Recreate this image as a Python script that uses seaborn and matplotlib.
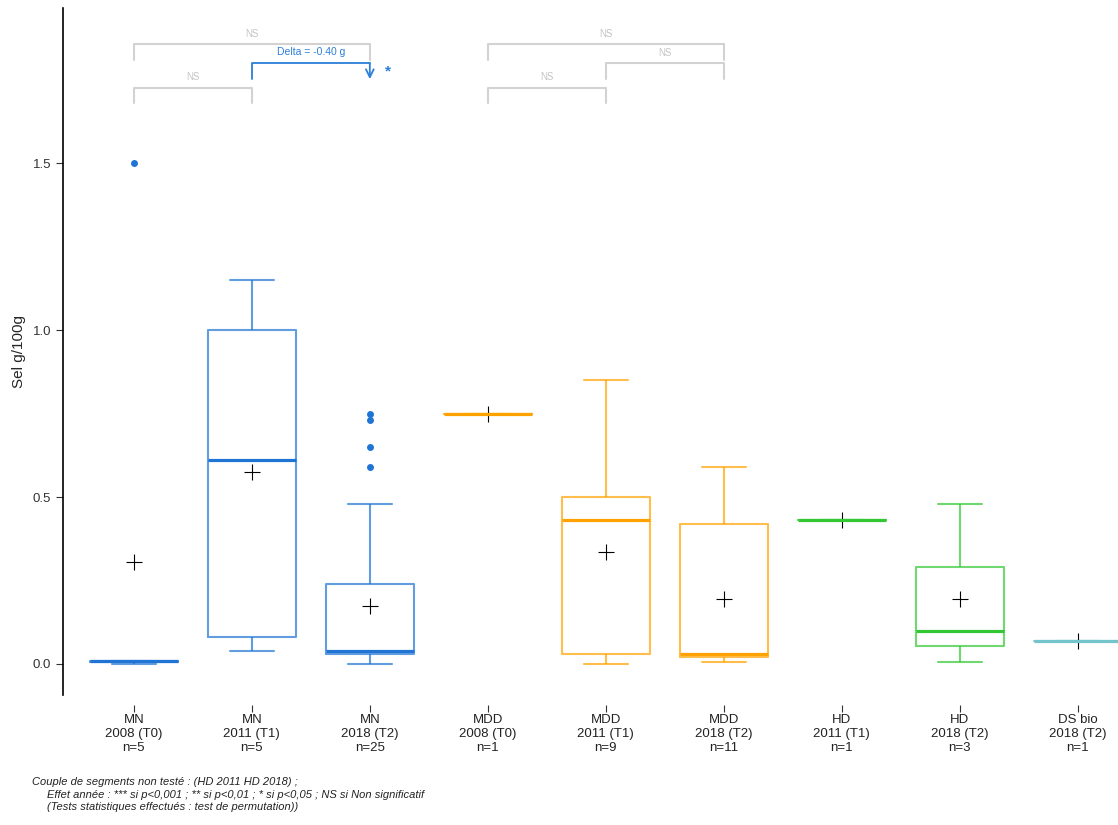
import numpy as np
import pandas as pd
import seaborn as sns
import matplotlib.pyplot as plt

# valeurs (Sel g/100g)
mn_2008 = [0.0, 0.005, 0.01, 0.01, 1.5]
mn_2011 = [0.04, 0.08, 0.61, 1.0, 1.15]
mn_2018 = [0.0, 0.01, 0.02, 0.02, 0.03, 0.03, 0.03, 0.03, 0.03, 0.04, 0.04, 0.04, 0.04,
           0.04, 0.04, 0.04, 0.05, 0.055, 0.24, 0.35, 0.48, 0.59, 0.65, 0.73, 0.75]
mdd_2008 = [0.75]
mdd_2011 = [0.0, 0.01, 0.03, 0.195, 0.43, 0.45, 0.50, 0.55, 0.85]
mdd_2018 = [0.005, 0.01, 0.02, 0.02, 0.025, 0.03, 0.10, 0.40, 0.44, 0.505, 0.59]
hd_2011 = [0.43]
hd_2018 = [0.005, 0.10, 0.48]
dsbio_2018 = [0.07]

segments = ["MN", "MN", "MN", "MDD", "MDD", "MDD", "HD", "HD", "DS bio"]
annees = ["2008 (T0)", "2011 (T1)", "2018 (T2)", "2008 (T0)", "2011 (T1)", "2018 (T2)",
          "2011 (T1)", "2018 (T2)", "2018 (T2)"]
valeurs = [mn_2008, mn_2011, mn_2018, mdd_2008, mdd_2011, mdd_2018, hd_2011, hd_2018, dsbio_2018]
couleurs_seg = {"MN": "#1f74d4", "MDD": "#ffa200", "HD": "#33c833", "DS bio": "#74c4cc"}

labels = [f"{s}\n{a}\nn={len(v)}" for s, a, v in zip(segments, annees, valeurs)]
df = pd.DataFrame({
    "segment": np.repeat(labels, [len(v) for v in valeurs]),
    "sel": np.concatenate(valeurs),
})
palette = {lab: couleurs_seg[s] for lab, s in zip(labels, segments)}

sns.set_style("ticks")
plt.rcParams['font.family'] = ['Liberation Sans', 'DejaVu Sans']

fig = plt.figure(figsize=(11.18, 8.25), dpi=100)
ax = fig.add_axes([63 / 1118, 1 - 695 / 825, 1 - 63 / 1118, (695 - 8) / 825])

sns.boxplot(data=df, x="segment", y="sel", hue="segment", order=labels, hue_order=labels,
            palette=palette, fill=False, width=0.75, gap=0, linewidth=1.5, legend=False, ax=ax,
            medianprops=dict(linewidth=2.3),
            boxprops=dict(alpha=0.7), whiskerprops=dict(alpha=0.7), capprops=dict(alpha=0.7),
            flierprops=dict(marker='o', markersize=5))
for ln in ax.lines:
    if ln.get_marker() == 'o':
        ln.set_markerfacecolor(ln.get_markeredgecolor())
        ln.set_markeredgewidth(0)

# moyennes
sns.pointplot(data=df, x="segment", y="sel", order=labels, estimator="mean", errorbar=None,
              color="black", marker="+", linestyle="none", markersize=12,
              markeredgewidth=0.8, ax=ax)

ax.set_xlim(-0.6, 8.34)
ax.set_ylim(-0.093, 1.965)
ax.set_yticks([0, 0.5, 1.0, 1.5])
ax.set_yticklabels(["0.0", "0.5", "1.0", "1.5"])
ax.set_xlabel("")
ax.set_ylabel("Sel g/100g", fontsize=11, labelpad=5)
for s in ["top", "right", "bottom"]:
    ax.spines[s].set_visible(False)
ax.spines["left"].set_linewidth(1.2)
ax.spines["left"].set_color("black")
ax.spines["bottom"].set_position(("outward", 7))
ax.tick_params(axis="x", length=5, width=0.8, color="#333333", labelsize=9.5,
               labelcolor="#222222", pad=2)
ax.tick_params(axis="y", length=5, width=0.8, color="#333333", labelsize=9.5,
               labelcolor="#333333")

# comparaisons
gris_l, gris_t = "#d2d2d2", "#c4c4c4"
bleu = "#2a7fd8"


def bracket(x0, x1, y, txt, leg=0.046, col=gris_l, tcol=gris_t):
    ax.plot([x0, x0, x1, x1], [y - leg, y, y, y - leg], color=col, lw=1.5, clip_on=False)
    ax.text((x0 + x1) / 2, y + 0.032, txt, color=tcol, fontsize=7, ha="center", va="center")


bracket(0, 1, 1.725, "NS")
bracket(0, 2, 1.856, "NS")
bracket(3, 4, 1.725, "NS")
bracket(3, 5, 1.856, "NS")
bracket(4, 5, 1.799, "NS")

ax.plot([1, 1, 2], [1.751, 1.799, 1.799], color=bleu, lw=1.3, clip_on=False)
ax.annotate("", xy=(2, 1.752), xytext=(2, 1.800),
            arrowprops=dict(arrowstyle="->", color=bleu, lw=1.3, mutation_scale=14,
                            shrinkA=0, shrinkB=0))
ax.text(1.5, 1.832, "Delta = -0.40 g", color=bleu, fontsize=7.5, ha="center", va="center")
ax.text(2.15, 1.776, "*", color=bleu, fontsize=11, fontweight="bold", ha="center", va="center")

# notes
fig.text(32 / 1118, 1 - 782 / 825, "Couple de segments non testé : (HD 2011 HD 2018) ;",
         fontsize=8, style="italic", va="center", color="#222222")
fig.text(47 / 1118, 1 - 794.5 / 825,
         "Effet année : *** si p<0,001 ; ** si p<0,01 ; * si p<0,05 ; NS si Non significatif",
         fontsize=8, style="italic", va="center", color="#222222")
fig.text(47 / 1118, 1 - 807 / 825, "(Tests statistiques effectués : test de permutation))",
         fontsize=8, style="italic", va="center", color="#222222")

fig.savefig("out.png", dpi=100)
